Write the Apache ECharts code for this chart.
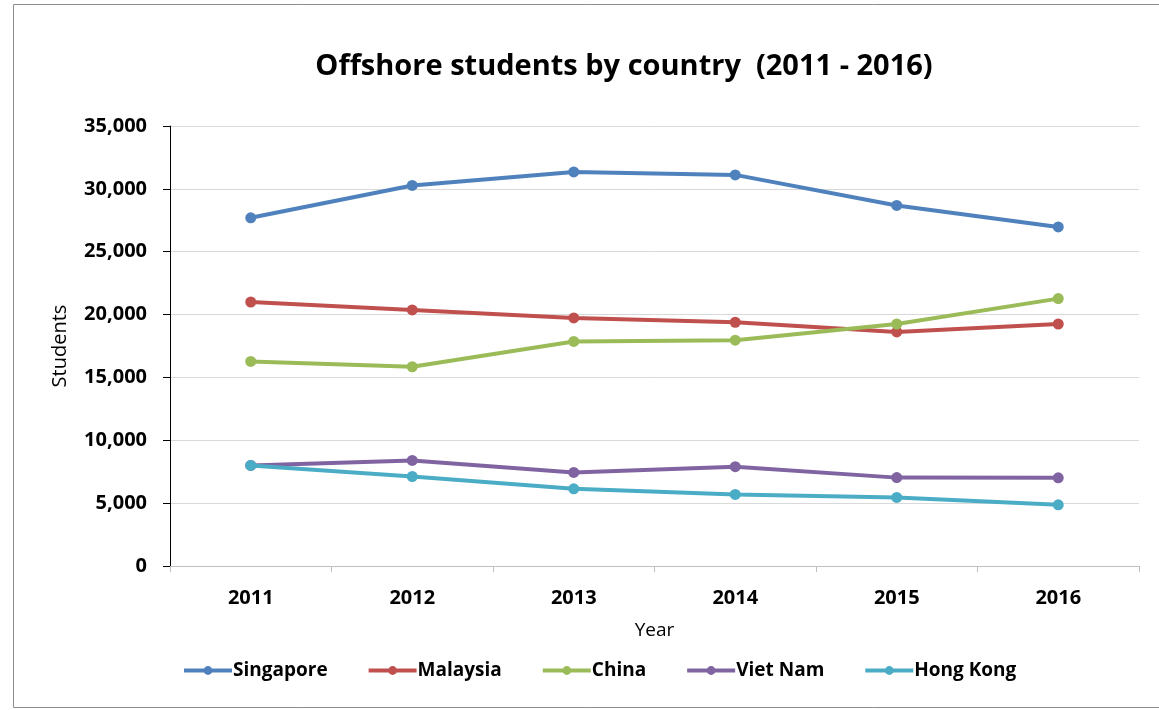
<!DOCTYPE html>
<html>
<head>
<meta charset="utf-8">
<script src="https://cdn.jsdelivr.net/npm/echarts@6/dist/echarts.min.js"></script>
<style>
html,body{margin:0;padding:0;background:#fff;}
#chart{width:1159px;height:710px;}
</style>
</head>
<body>
<div id="chart"></div>
<script>
const years = ['2011', '2012', '2013', '2014', '2015', '2016'];
const singapore = [27700, 30270, 31350, 31110, 28680, 26970];
const malaysia = [21000, 20370, 19730, 19390, 18620, 19250];
const china = [16270, 15850, 17860, 17960, 19250, 21270];
const vietNam = [8000, 8400, 7440, 7900, 7030, 7010];
const hongKong = [8000, 7120, 6140, 5690, 5450, 4870];
const yTicks = { min: 0, max: 35000, interval: 5000 };

const FONT = '"Open Sans", sans-serif';
const colors = ['#4f81bd', '#c0504d', '#9bbb59', '#8064a2', '#4bacc6'];
const names = ['Singapore', 'Malaysia', 'China', 'Viet Nam', 'Hong Kong'];
const datasets = [singapore, malaysia, china, vietNam, hongKong];

const chart = echarts.init(document.getElementById('chart'), null, { renderer: 'canvas' });
chart.setOption({
  animation: false,
  backgroundColor: '#fff',
  color: colors,
  title: {
    text: 'Offshore students by country  (2011 - 2016)',
    left: 619, textAlign: 'center', top: 47,
    textStyle: { fontFamily: FONT, fontSize: 29, fontWeight: 'bold', color: '#000' }
  },
  graphic: [{
    type: 'rect', z: -1, silent: true,
    shape: { x: 13.5, y: 4.5, width: 1170, height: 703 },
    style: { fill: 'none', stroke: '#8c8c8c', lineWidth: 1 }
  }],
  legend: {
    left: 177, top: 656,
    itemWidth: 48, itemHeight: 11, itemGap: 39,
    lineStyle: { width: 4 },
    textStyle: { fontFamily: FONT, fontSize: 19, fontWeight: 'bold', color: '#000', padding: [0, 0, 0, -4] },
    data: names
  },
  grid: { left: 170, right: 20, top: 126, bottom: 144, containLabel: false },
  xAxis: {
    type: 'category', data: years, boundaryGap: true,
    name: 'Year', nameLocation: 'middle', nameGap: 55,
    nameTextStyle: { fontFamily: FONT, fontSize: 19, color: '#000' },
    axisLine: { lineStyle: { color: '#bfbfbf', width: 1 } },
    axisTick: { show: true, length: 6, lineStyle: { color: '#bfbfbf' } },
    axisLabel: { fontFamily: FONT, fontSize: 20, fontWeight: 'bold', color: '#000', margin: 22 }
  },
  yAxis: {
    type: 'value', min: yTicks.min, max: yTicks.max, interval: yTicks.interval,
    name: 'Students', nameLocation: 'middle', nameGap: 100, nameRotate: 90,
    nameTextStyle: { fontFamily: FONT, fontSize: 20, color: '#000' },
    axisLine: { show: true, lineStyle: { color: '#000', width: 1 } },
    axisTick: { show: true, length: 7, lineStyle: { color: '#000' } },
    axisLabel: {
      fontFamily: FONT, fontSize: 20, fontWeight: 'bold', color: '#000', margin: 23,
      formatter: v => v.toLocaleString('en-US')
    },
    splitLine: { lineStyle: { color: '#d9d9d9', width: 1 } }
  },
  series: datasets.map((d, i) => ({
    name: names[i], type: 'line', data: d,
    symbol: 'circle', symbolSize: 11,
    lineStyle: { width: 4, color: colors[i] },
    itemStyle: { color: colors[i] }
  }))
});
</script>
</body>
</html>
